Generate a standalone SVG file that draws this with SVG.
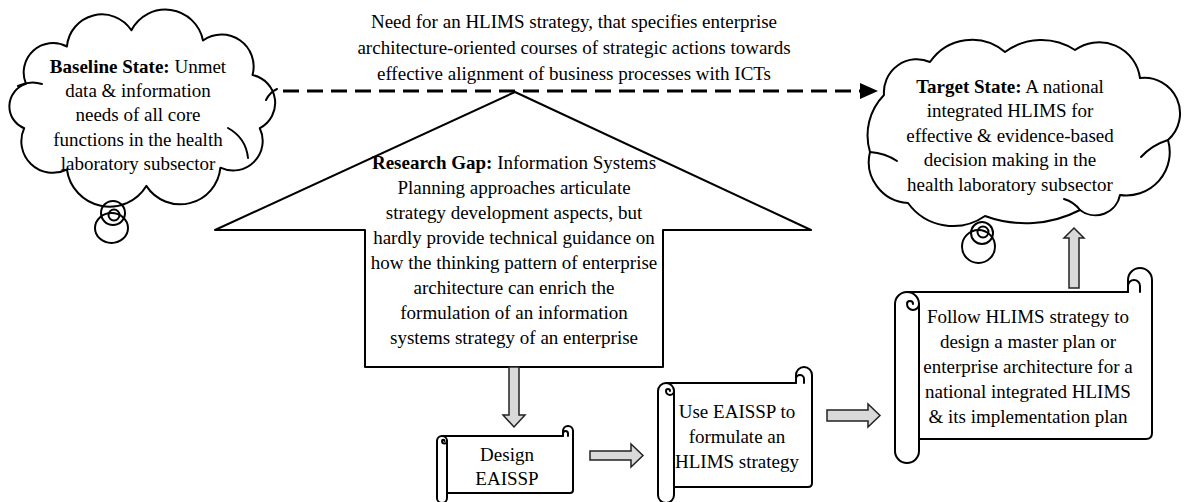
<svg xmlns="http://www.w3.org/2000/svg" width="1184" height="502" viewBox="0 0 1184 502">
<style>
.t{font-family:"Liberation Serif","Times New Roman",serif;font-size:19px;fill:#000;text-anchor:middle}
.b{font-weight:bold}
.ol{fill:#fff;stroke:#000;stroke-width:2;stroke-linejoin:round}
.ln{fill:none;stroke:#000;stroke-width:2;stroke-linecap:round}
.th{fill:none;stroke:#000;stroke-width:2}
.blk{fill:#d9d9d9;stroke:#222;stroke-width:1.5;stroke-linejoin:miter}
</style>
<defs>
<marker id="ah" markerUnits="userSpaceOnUse" markerWidth="18" markerHeight="16" refX="0" refY="8" orient="auto">
<path d="M0,0 L18,8 L0,16 Z" fill="#000"/>
</marker>
</defs>
<rect width="1184" height="502" fill="#fff"/>

<g id="research-gap">
<path class="ol" d="M515,92 L811,230 L663,230 L663,367 L365,367 L365,230 L215,230 Z"/>
<text class="t" x="514" y="169"><tspan class="b">Research Gap:</tspan> Information Systems</text>
<text class="t" x="514" y="194">Planning approaches articulate</text>
<text class="t" x="514" y="219">strategy development aspects, but</text>
<text class="t" x="514" y="244">hardly provide technical guidance on</text>
<text class="t" x="514" y="269">how the thinking pattern of enterprise</text>
<text class="t" x="514" y="294">architecture can enrich the</text>
<text class="t" x="514" y="319">formulation of an information</text>
<text class="t" x="514" y="344">systems strategy of an enterprise</text>
</g>

<g id="baseline-state">
<path class="ol" d="M24.2,128.2 A23.5,23.5 0 0 1 26,83.9 A29.4,29.4 0 0 1 66.9,46.5 A35.2,35.2 0 0 1 131.4,30.3 A38.3,38.3 0 0 1 203,40.5 A32,32 0 0 1 252.5,75 A28.5,28.5 0 0 1 259.8,128.2 A29.6,29.6 0 0 1 220.4,167.7 A40.4,40.4 0 0 1 146.3,185.9 A43,43 0 0 1 66.9,169.5 A31.5,31.5 0 0 1 24.2,128.2 Z"/>
<path class="ln" d="M18,86 Q30,80 42,84"/>
<path class="ln" d="M228,128 Q246,138 248,158"/>
<path class="ln" d="M266,100 Q270,92 277,89"/>
<circle class="th" cx="113" cy="213" r="12"/>
<circle class="th" cx="114" cy="215" r="5.5"/>
<ellipse class="th" cx="111.5" cy="228" rx="16.5" ry="15"/>
<text class="t" x="138" y="73"><tspan class="b">Baseline State:</tspan> Unmet</text>
<text class="t" x="138" y="97">data &amp; information</text>
<text class="t" x="138" y="121">needs of all core</text>
<text class="t" x="138" y="146">functions in the health</text>
<text class="t" x="138" y="170">laboratory subsector</text>
</g>

<g id="target-state">
<path class="ol" d="M870,152 A57.8,57.8 0 0 1 884,95 A33,33 0 0 1 930,62 A50.6,50.6 0 0 1 1005,52 A61.2,61.2 0 0 1 1075,50 A41.3,41.3 0 0 1 1140,78 A35.6,35.6 0 0 1 1168,140 A43.3,43.3 0 0 1 1120,195 A25,25 0 0 1 1080,210 A118,118 0 0 1 985,216 A55.7,55.7 0 0 1 908,203 A41.2,41.2 0 0 1 870,152 Z"/>
<path class="ln" d="M870,152 Q885,153 897,161"/>
<path class="ln" d="M1168,140 Q1152,145 1141,157"/>
<path class="ln" d="M1080,210 Q1074,202 1064,199"/>
<circle class="th" cx="982" cy="233" r="11"/>
<circle class="th" cx="983" cy="232" r="5.5"/>
<ellipse class="th" cx="978.5" cy="246.5" rx="16.5" ry="16.5"/>
<text class="t" x="1010" y="93"><tspan class="b">Target State:</tspan> A national</text>
<text class="t" x="1010" y="117">integrated HLIMS for</text>
<text class="t" x="1010" y="142">effective &amp; evidence-based</text>
<text class="t" x="1010" y="166">decision making in the</text>
<text class="t" x="1010" y="191">health laboratory subsector</text>
</g>

<g id="design-eaissp">
<path class="ol" d="M442,436 H563 V431 A5,5 0 0 1 573,431 V490 Q573,493 570,493 H447 V441 Z"/>
<path class="ol" d="M437,441 A5,5 0 0 1 447,441 V498 A5,5 0 0 1 437,498 Z"/>
<path class="ln" d="M447,441 A2.5,2.5 0 0 1 442,441 A1.25,1.25 0 0 1 444.5,441"/>
<path class="ln" d="M563,436 V433.5 A2.5,2.5 0 0 1 568,433.5 V436"/>
<text class="t" x="507" y="461">Design</text>
<text class="t" x="507" y="485">EAISSP</text>
</g>

<g id="use-eaissp">
<path class="ol" d="M666,383 H796 V375 A8,8 0 0 1 812,375 V483 Q812,487 808,487 H674 V391 Z"/>
<path class="ol" d="M658,391 A8,8 0 0 1 674,391 V495 A8,8 0 0 1 658,495 Z"/>
<path class="ln" d="M674,391 A4,4 0 0 1 666,391 A2,2 0 0 1 670,391"/>
<path class="ln" d="M796,383 V379 A4,4 0 0 1 804,379 V383"/>
<text class="t" x="737" y="418">Use EAISSP to</text>
<text class="t" x="737" y="443">formulate an</text>
<text class="t" x="737" y="468">HLIMS strategy</text>
</g>

<g id="follow-strategy">
<path class="ol" d="M907,292 H1128 V280 A12,12 0 0 1 1152,280 V433 Q1152,439 1146,439 H919 V304 Z"/>
<path class="ol" d="M895,304 A12,12 0 0 1 919,304 V451 A12,12 0 0 1 895,451 Z"/>
<path class="ln" d="M919,304 A6,6 0 0 1 907,304 A3,3 0 0 1 913,304"/>
<path class="ln" d="M1128,292 V286 A6,6 0 0 1 1140,286 V292"/>
<text class="t" x="1028" y="323">Follow HLIMS strategy to</text>
<text class="t" x="1028" y="348">design a master plan or</text>
<text class="t" x="1028" y="373">enterprise architecture for a</text>
<text class="t" x="1028" y="398">national integrated HLIMS</text>
<text class="t" x="1028" y="423">&amp; its implementation plan</text>
</g>

<g id="connectors">
<line x1="283" y1="91" x2="860" y2="91" stroke="#000" stroke-width="3" stroke-dasharray="16 8" marker-end="url(#ah)"/>
<text class="t" x="574" y="28">Need for an HLIMS strategy, that specifies enterprise</text>
<text class="t" x="574" y="54">architecture-oriented courses of strategic actions towards</text>
<text class="t" x="574" y="80">effective alignment of business processes with ICTs</text>
<path class="blk" d="M509,367 H519 V415 H525 L514,427 L503,415 H509 Z"/>
<path class="blk" d="M590,451 H631 V444 L643,455.5 L631,467 V460 H590 Z"/>
<path class="blk" d="M827,410 H868 V404 L880,415.5 L868,427 V421 H827 Z"/>
<path class="blk" d="M1069,288 V238 H1064 L1074,228 L1084,238 H1079 V288 Z"/>
</g>
</svg>
